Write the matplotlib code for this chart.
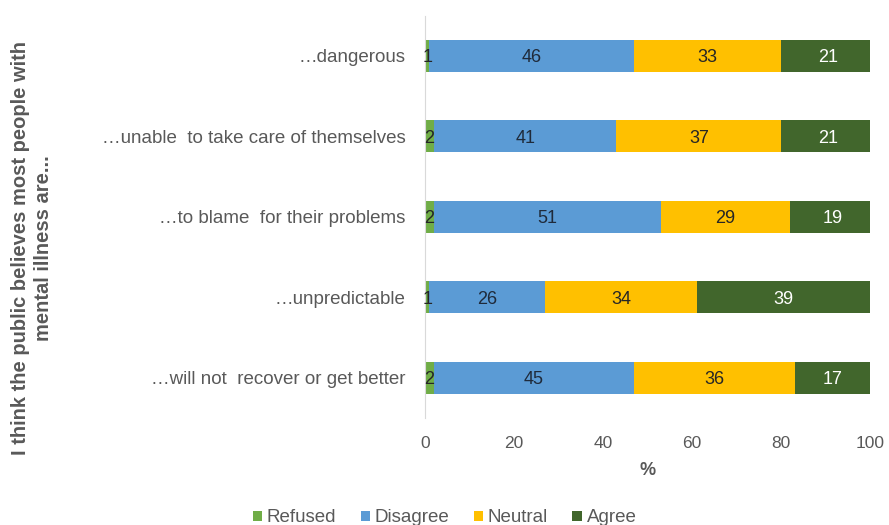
import matplotlib.pyplot as plt
import numpy as np

plt.rcParams['font.family'] = ['Liberation Sans', 'DejaVu Sans']

# survey items, top to bottom
categories = ['\u2026dangerous',
              '\u2026unable  to take care of themselves',
              '\u2026to blame  for their problems',
              '\u2026unpredictable',
              '\u2026will not  recover or get better']

refused = [1, 2, 2, 1, 2]
disagree = [46, 41, 51, 26, 45]
neutral = [33, 37, 29, 34, 36]
agree = [21, 21, 19, 39, 17]

series = [('Refused', refused, '#70AD47', '#262626'),
          ('Disagree', disagree, '#5B9BD5', '#1F2A3A'),
          ('Neutral', neutral, '#FFC000', '#262626'),
          ('Agree', agree, '#41662C', 'white')]

grey = '#595959'

fig = plt.figure(figsize=(8.89, 5.25), dpi=100)
ax = fig.add_axes([0.478, 0.204, 0.501, 0.766])

y = np.arange(len(categories))[::-1]
left = np.zeros(len(categories))
for name, vals, col, tcol in series:
    vals = np.array(vals, dtype=float)
    ax.barh(y, vals, left=left, height=0.4, color=col, label=name)
    for yi, l, v in zip(y, left, vals):
        ax.text(l + v / 2, yi, str(int(v)), ha='center', va='center_baseline',
                fontsize=13, color=tcol, clip_on=False)
    left += vals

ax.set_xlim(0, 100)
ax.set_ylim(-0.5, len(categories) - 0.5)
ax.set_yticks(y)
ax.set_yticklabels(categories, fontsize=13.5, color=grey)
ax.set_xticks(range(0, 101, 20))
ax.tick_params(axis='x', labelsize=12.5, colors=grey, length=0, pad=13)
ax.tick_params(axis='y', length=0, pad=14)
ax.set_xlabel('%', fontsize=13, color=grey, fontweight='bold', labelpad=8)

for s in ['top', 'right', 'bottom']:
    ax.spines[s].set_visible(False)
ax.spines['left'].set_color('#D9D9D9')

fig.text(0.036, 0.527, 'I think the public believes most people with\nmental illness are...',
         rotation=90, ha='center', va='center', fontsize=14.5, fontweight='bold',
         color=grey, linespacing=1.3)

fig.legend(loc='lower center', bbox_to_anchor=(0.5, -0.035), ncol=4, frameon=False,
           fontsize=13.5, handlelength=0.5, handleheight=0.5, handletextpad=0.25,
           columnspacing=1.3, labelcolor=grey)

fig.savefig('out.png', dpi=100)
